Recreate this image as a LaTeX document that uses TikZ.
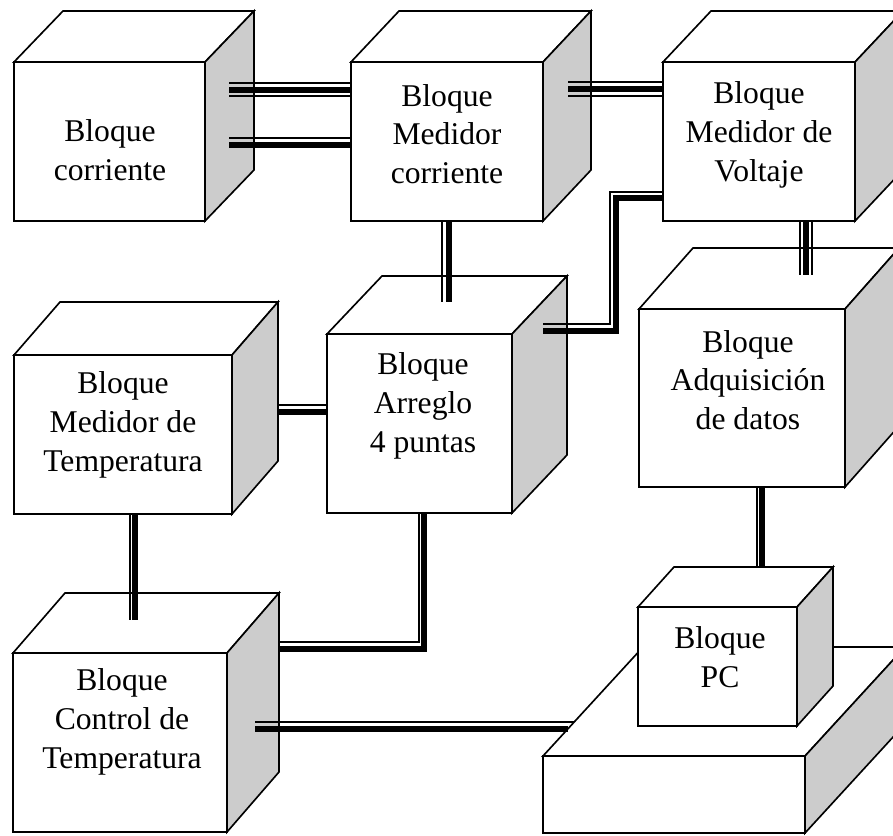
\documentclass[tikz,border=0pt]{standalone}
\usepackage{fontspec}
\setmainfont{Liberation Serif}
\usetikzlibrary{calc}
\colorlet{sidegrey}{gray!40}
\newcommand{\px}{0.03cm}

% one block drawn as a cube: #1 name, (#2,#3) front top-left corner,
% #4 x #5 size of the front face, (#6,#7) depth of the cube
\newcommand{\bloque}[7]{%
  \node[frontface, anchor=north west, minimum width=#4*\px,
        minimum height=#5*\px] (#1) at (#2,#3) {};
  \draw[topface] (#1.north west) -- ++(#6,#7) -- ($(#1.north east)+(#6,#7)$)
        -- (#1.north east) -- cycle;
  \draw[sideface] (#1.north east) -- ++(#6,#7) -- ($(#1.south east)+(#6,#7)$)
        -- (#1.south east) -- cycle;
}

\tikzset{
  frontface/.style={draw, fill=white, line width=1.4pt, inner sep=0pt, outer sep=0pt},
  topface/.style={fill=white, line width=1.4pt, line join=miter},
  sideface/.style={fill=sidegrey, line width=1.4pt, line join=miter},
  lbl/.style={align=center, inner sep=0pt, font=\fontsize{27}{33}\selectfont},
  wirethin/.style={line width=1.6pt},
  wirethick/.style={line width=4.6pt},
}

\begin{document}
\begin{tikzpicture}[x=0.03cm, y=-0.03cm]
  \useasboundingbox (0,0) rectangle (893,835);
  \clip (0,0) rectangle (893,835);

  % --- blocks ---
  \bloque{corr}{14}{62}{191}{159}{49}{-51}
  \bloque{medc}{351}{62}{192}{159}{48}{-51}
  \bloque{medv}{663}{62}{192}{159}{48}{-51}
  \bloque{medt}{14}{355}{218}{159}{46}{-53}
  \bloque{arr}{327}{334}{185}{179}{55}{-58}
  \bloque{adq}{639}{309}{206}{178}{54}{-61}
  \bloque{ctrl}{13}{653}{214}{179}{52}{-60}
  % the PC stands on a flat base
  \bloque{base}{543}{756}{262}{77}{100}{-109}
  \bloque{pc}{638}{607}{159}{119}{36}{-40}

  \node[lbl] (corrt) at (110,150) {Bloque\\corriente};
  \node[lbl] (medct) at (447,134) {Bloque\\Medidor\\corriente};
  \node[lbl] (medvt) at (759,135) {Bloque\\Medidor de\\Voltaje};
  \node[lbl] (medtt) at (123,425) {Bloque\\Medidor de\\Temperatura};
  \node[lbl] (arrt) at (423,406) {Bloque\\Arreglo\\4 puntas};
  \node[lbl] (adqt) at (748,380) {Bloque\\Adquisición\\de datos};
  \node[lbl] (ctrlt) at (122,722) {Bloque\\Control de\\Temperatura};
  \node[lbl] (pct) at (720,657) {Bloque\\PC};

  % --- connectors: a thin and a thick line side by side ---
  % corriente -> medidor corriente (upper, three lines)
  \draw[wirethin]  ($(corr.north east)+(24,21)$) -- ($(medc.north west)+(0,21)$);
  \draw[wirethick] ($(corr.north east)+(24,28)$) -- ($(medc.north west)+(0,28)$);
  \draw[wirethin]  ($(corr.north east)+(24,34)$) -- ($(medc.north west)+(0,34)$);
  % corriente -> medidor corriente (lower)
  \draw[wirethin]  ($(corr.north east)+(24,76)$) -- ($(medc.north west)+(0,76)$);
  \draw[wirethick] ($(corr.north east)+(24,83)$) -- ($(medc.north west)+(0,83)$);
  % medidor corriente -> medidor voltaje
  \draw[wirethin]  ($(medc.north east)+(25,20)$) -- ($(medv.north west)+(0,20)$);
  \draw[wirethick] ($(medc.north east)+(25,27)$) -- ($(medv.north west)+(0,27)$);
  \draw[wirethin]  ($(medc.north east)+(25,34)$) -- ($(medv.north west)+(0,34)$);
  % medidor corriente -> arreglo
  \draw[wirethin]  ($(medc.south west)+(91,0)$) -- ($(arr.north west)+(115,-32)$);
  \draw[wirethick] ($(medc.south west)+(98,0)$) -- ($(arr.north west)+(122,-32)$);
  % arreglo -> medidor voltaje
  \draw[wirethin]  ($(arr.north east)+(31,-10)$) -| ($(medv.north west)+(-53,130)$)
                   -- ($(medv.north west)+(0,130)$);
  \draw[wirethick] ($(arr.north east)+(31,-3)$) -| ($(medv.north west)+(-47,136)$)
                   -- ($(medv.north west)+(0,136)$);
  % medidor voltaje -> adquisicion (three lines)
  \draw[wirethin]  ($(medv.south west)+(137,0)$) -- ($(adq.north west)+(161,-34)$);
  \draw[wirethick] ($(medv.south west)+(143,0)$) -- ($(adq.north west)+(167,-34)$);
  \draw[wirethin]  ($(medv.south west)+(149,0)$) -- ($(adq.north west)+(173,-34)$);
  % medidor temperatura -> arreglo
  \draw[wirethin]  ($(medt.north east)+(46,50)$) -- ($(arr.north west)+(0,71)$);
  \draw[wirethick] ($(medt.north east)+(46,57)$) -- ($(arr.north west)+(0,78)$);
  % medidor temperatura -> control
  \draw[wirethin]  ($(medt.south west)+(116,0)$) -- ($(ctrl.north west)+(117,-33)$);
  \draw[wirethick] ($(medt.south west)+(121,0)$) -- ($(ctrl.north west)+(122,-33)$);
  % arreglo -> control
  \draw[wirethin]  ($(arr.south west)+(92,0)$) |- ($(ctrl.north east)+(51,-11)$);
  \draw[wirethick] ($(arr.south west)+(97,0)$) |- ($(ctrl.north east)+(51,-4)$);
  % control -> base del PC
  \draw[wirethin]  ($(ctrl.north east)+(28,69)$) -- ($(base.north west)+(31,-34)$);
  \draw[wirethick] ($(ctrl.north east)+(28,76)$) -- ($(base.north west)+(25,-27)$);
  % adquisicion -> PC
  \draw[wirethin]  ($(adq.south west)+(118,0)$) -- ($(pc.north west)+(119,-40)$);
  \draw[wirethick] ($(adq.south west)+(123,0)$) -- ($(pc.north west)+(124,-40)$);
\end{tikzpicture}
\end{document}
